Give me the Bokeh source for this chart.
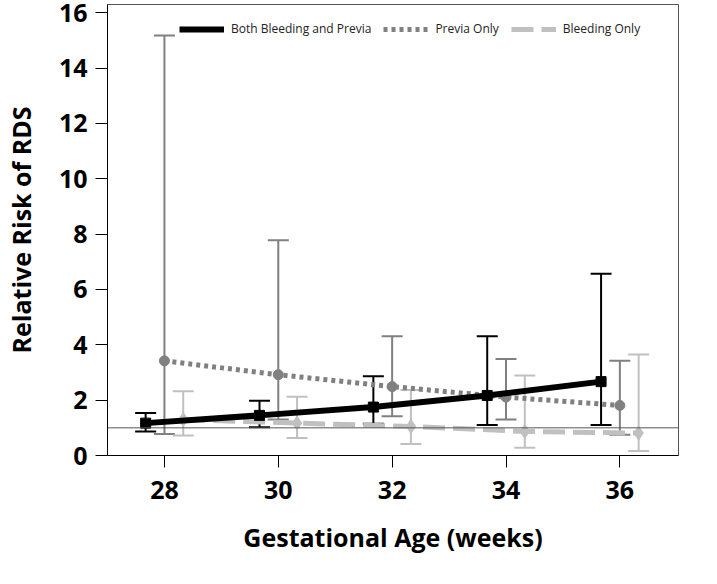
from bokeh.plotting import figure
from bokeh.models import (ColumnDataSource, Whisker, TeeHead, Span, Label, Legend,
                          LegendItem, FixedTicker, Range1d)
from bokeh.embed import file_html
from bokeh.resources import INLINE

# ---- data ----
weeks = [28, 30, 32, 34, 36]
both_rr = [1.17, 1.45, 1.75, 2.17, 2.67]
both_lo = [0.87, 1.02, 1.15, 1.10, 1.10]
both_hi = [1.54, 1.98, 2.86, 4.31, 6.57]
previa_rr = [3.42, 2.92, 2.49, 2.11, 1.81]
previa_lo = [0.78, 1.30, 1.42, 1.30, 0.75]
previa_hi = [15.18, 7.78, 4.31, 3.49, 3.42]
bleed_rr = [1.30, 1.17, 1.05, 0.87, 0.81]
bleed_lo = [0.72, 0.63, 0.42, 0.28, 0.16]
bleed_hi = [2.32, 2.12, 2.37, 2.89, 3.65]
x_ticks = [28, 30, 32, 34, 36]
y_ticks = [0, 2, 4, 6, 8, 10, 12, 14, 16]
series_names = ["Both Bleeding and Previa", "Previa Only", "Bleeding Only"]
offsets = [-0.33, 0.0, 0.33]

FONT = "Open Sans"

p = figure(frame_width=571, frame_height=451, output_backend="svg",
           toolbar_location=None,
           x_range=Range1d(27.0, 37.03), y_range=Range1d(0, 16.3),
           min_border_left=107, min_border_right=30, min_border_top=4,
           min_border_bottom=110)
p.grid.visible = False
p.outline_line_color = "#555555"
p.outline_line_width = 1
p.background_fill_color = "white"
p.border_fill_color = "white"

colors = ["#000000", "#808080", "#c0c0c0"]
data = [(both_rr, both_lo, both_hi), (previa_rr, previa_lo, previa_hi),
        (bleed_rr, bleed_lo, bleed_hi)]
sources = []
for (rr, lo, hi), off in zip(data, offsets):
    sources.append(ColumnDataSource(dict(x=[w + off for w in weeks], rr=rr, lo=lo, hi=hi)))

# RR=1 reference line
p.add_layout(Span(location=1, dimension="width", line_color="#555555", line_width=1))

# whiskers
for src, c in zip(sources, colors):
    w = Whisker(source=src, base="x", upper="hi", lower="lo", dimension="height",
                line_color=c, line_width=2,
                upper_head=TeeHead(size=21, line_color=c, line_width=2),
                lower_head=TeeHead(size=21, line_color=c, line_width=2))
    p.add_layout(w)

# lines (bleeding first so black on top)
r_bleed = p.line("x", "rr", source=sources[2], line_color=colors[2], line_width=5,
                 line_dash="22 8")
p.scatter("x", "rr", source=sources[2], marker="diamond", size=14,
          fill_color=colors[2], line_color=colors[2])
r_prev = p.line("x", "rr", source=sources[1], line_color=colors[1], line_width=5,
                line_dash="4 4")
p.scatter("x", "rr", source=sources[1], marker="circle", size=10,
          fill_color=colors[1], line_color=colors[1])
r_both = p.line("x", "rr", source=sources[0], line_color=colors[0], line_width=6)
p.scatter("x", "rr", source=sources[0], marker="square", size=10,
          fill_color=colors[0], line_color=colors[0])

p.add_layout(Label(x=37.03, y=1, text="RR=1", x_offset=3, y_offset=0,
                   text_baseline="middle",
                   text_font=FONT, text_font_size="10.5px", text_color="#333333"))

# axes
for ax in (p.xaxis[0], p.yaxis[0]):
    ax.major_label_text_font = FONT
    ax.major_label_text_font_style = "bold"
    ax.major_label_text_font_size = "25px"
    ax.major_label_text_color = "black"
    ax.axis_label_text_font = FONT
    ax.axis_label_text_font_style = "bold"
    ax.axis_label_text_font_size = "25px"
    ax.axis_label_text_color = "black"
    ax.major_tick_out = 12
    ax.major_tick_in = 0
    ax.minor_tick_out = 0
    ax.minor_tick_in = 0
    ax.axis_line_color = "black"
    ax.major_tick_line_color = "black"

p.xaxis.ticker = FixedTicker(ticks=x_ticks)
p.yaxis.ticker = FixedTicker(ticks=y_ticks)
p.xaxis.axis_label = "Gestational Age (weeks)"
p.yaxis.axis_label = "Relative Risk of RDS"
p.xaxis.major_label_standoff = 13
p.xaxis.axis_label_standoff = 18
p.yaxis.major_label_standoff = 8
p.yaxis.axis_label_standoff = 18

# legend kept inside the frame's empty top area so that it is always visible
legend = Legend(items=[LegendItem(label=series_names[0], renderers=[r_both]),
                       LegendItem(label=series_names[1], renderers=[r_prev]),
                       LegendItem(label=series_names[2], renderers=[r_bleed])],
                orientation="horizontal", location=(72, 418),
                label_text_font=FONT, label_text_font_size="12px",
                label_text_color="#222222",
                glyph_width=45, glyph_height=16, label_standoff=7, spacing=12,
                padding=3, margin=0, border_line_color=None,
                background_fill_color="white", background_fill_alpha=1)
p.add_layout(legend)

open("out.html", "w").write(file_html(p, INLINE))
